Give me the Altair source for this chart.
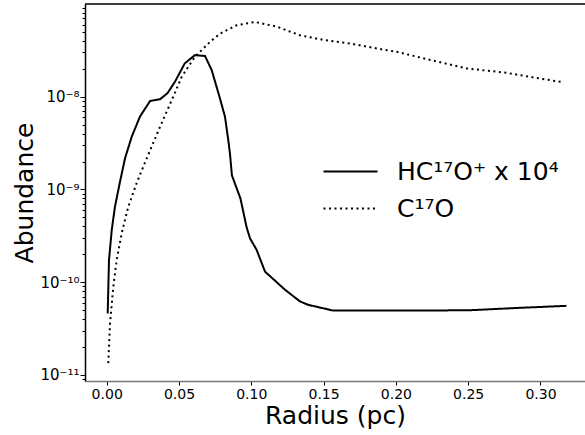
import math
import altair as alt
import pandas as pd

# HC17O+ (x 1e4) abundance profile
hco_x = [0.0007, 0.0016, 0.0035, 0.0057, 0.0092, 0.0127, 0.0173, 0.023, 0.030, 0.0369,
         0.042, 0.0472, 0.054, 0.061, 0.068, 0.0726, 0.078, 0.0818, 0.0841, 0.0853,
         0.0866, 0.0925, 0.0968, 0.0991, 0.1037, 0.1095, 0.1233, 0.1337, 0.1394, 0.1567,
         0.221, 0.2535, 0.281, 0.318]
hco_y = [4.6e-11, 1.74e-10, 3.66e-10, 6.5e-10, 1.21e-9, 2.17e-9, 3.7e-9, 6.1e-9, 9.0e-9, 9.4e-9,
         1.09e-8, 1.45e-8, 2.29e-8, 2.81e-8, 2.75e-8, 1.94e-8, 1.0e-8, 6.1e-9, 3.4e-9, 2.4e-9,
         1.42e-9, 8.0e-10, 3.9e-10, 2.98e-10, 2.23e-10, 1.30e-10, 8.3e-11, 6.2e-11, 5.7e-11, 4.94e-11,
         4.94e-11, 5.0e-11, 5.25e-11, 5.56e-11]

# C17O abundance profile
co_x = [0.0011, 0.0023, 0.0046, 0.0069, 0.0104, 0.0149, 0.0207, 0.0277, 0.038, 0.045,
        0.0519, 0.061, 0.0645, 0.0714, 0.0784, 0.090, 0.1026, 0.1176, 0.1337, 0.1498,
        0.168, 0.189, 0.2005, 0.219, 0.249, 0.2766, 0.2997, 0.316]
co_y = [1.34e-11, 3.6e-11, 8.97e-11, 1.74e-10, 3.37e-10, 6.5e-10, 1.17e-9, 2.17e-9, 5.2e-9, 9.2e-9,
        1.64e-8, 2.7e-8, 3.05e-8, 3.9e-8, 4.8e-8, 5.9e-8, 6.4e-8, 5.7e-8, 4.6e-8, 4.1e-8,
        3.76e-8, 3.27e-8, 3.05e-8, 2.6e-8, 2.02e-8, 1.81e-8, 1.57e-8, 1.43e-8]

series_names = ["HC¹⁷O⁺ x 10⁴", "C¹⁷O"]

x_ticks = [0.0, 0.05, 0.10, 0.15, 0.20, 0.25, 0.30]
y_major = [1e-11, 1e-10, 1e-9, 1e-8]
y_major_labels = ["10⁻¹¹", "10⁻¹⁰", "10⁻⁹", "10⁻⁸"]
y_minor = [m * 10.0 ** e for e in range(-12, -7) for m in range(2, 10)]
y_minor = [v for v in y_minor if 8.6e-12 <= v <= 1e-7]

df = pd.concat([
    pd.DataFrame({"r": hco_x, "a": hco_y, "s": series_names[0]}),
    pd.DataFrame({"r": co_x, "a": co_y, "s": series_names[1]}),
])

label_expr = "''"
for v, lab in zip(y_major, y_major_labels):
    e = round(math.log10(v))
    label_expr = f"abs(log(datum.value)/LN10 - ({e})) < 0.001 ? '{lab}' : ({label_expr})"

major_test = "abs(log(datum.value)/LN10 - round(log(datum.value)/LN10)) < 0.001"

FONT = "DejaVu Sans"
W, H = 500, 377

x_enc = alt.X("r:Q", sort=None, scale=alt.Scale(domain=[-0.015, 0.3308], nice=False, zero=False),
              axis=alt.Axis(values=x_ticks, format=".2f", title="Radius (pc)", grid=False,
                            labelFont=FONT, labelFontSize=14, labelColor="black",
                            titleFont=FONT, titleFontSize=25, titleFontWeight="normal",
                            titleColor="black", titlePadding=2,
                            domainColor="#777777", domainWidth=1.5, tickColor="black",
                            tickSize=4, tickWidth=1, labelPadding=2, labelFlush=False))
y_enc = alt.Y("a:Q", scale=alt.Scale(type="log", domain=[8.6e-12, 1e-7], nice=False),
              axis=alt.Axis(values=y_major + y_minor, labelExpr=label_expr, title="Abundance",
                            grid=False, labelFont=FONT, labelFontSize=15, labelColor="black",
                            titleFont=FONT, titleFontSize=25, titleFontWeight="normal",
                            titleColor="black", titleX=-53, titleY=H / 2, titleAngle=-90,
                            titleBaseline="alphabetic", titleAlign="center",
                            domainColor="black", domainWidth=1.5, tickColor="black",
                            tickSize={"condition": {"test": major_test, "value": 5}, "value": 3},
                            tickWidth=1, labelPadding=1, labelFlush=False))

dash_scale = alt.Scale(domain=series_names, range=[[1, 0], [2, 3.5]])
legend = alt.Legend(title=None, orient="none", legendX=251, legendY=153,
                    symbolType="M-2,0H2", symbolSize=729,
                    symbolStrokeWidth=2, symbolStrokeColor="black",
                    labelFont=FONT, labelFontSize=25, labelColor="black",
                    labelOffset=32, rowPadding=9, padding=0, labelLimit=400)

lines = alt.Chart(df).mark_line(color="black", strokeWidth=2, strokeCap="butt", clip=True).encode(
    x=x_enc, y=y_enc,
    strokeDash=alt.StrokeDash("s:N", sort=series_names, scale=dash_scale, legend=legend),
)

top_border = alt.Chart(pd.DataFrame({"k": [0]})).mark_rule(color="black", strokeWidth=1.5).encode(
    x=alt.value(0), x2=alt.value(W), y=alt.value(0)
)

chart = alt.layer(lines, top_border).properties(
    width=W, height=H,
    autosize=alt.AutoSizeParams(type="none"),
    padding={"left": 85, "top": 4, "right": 0, "bottom": 54},
).configure_view(stroke=None).configure(background="white")

chart.save("out.html", embed_options={"renderer": "svg", "actions": False})
